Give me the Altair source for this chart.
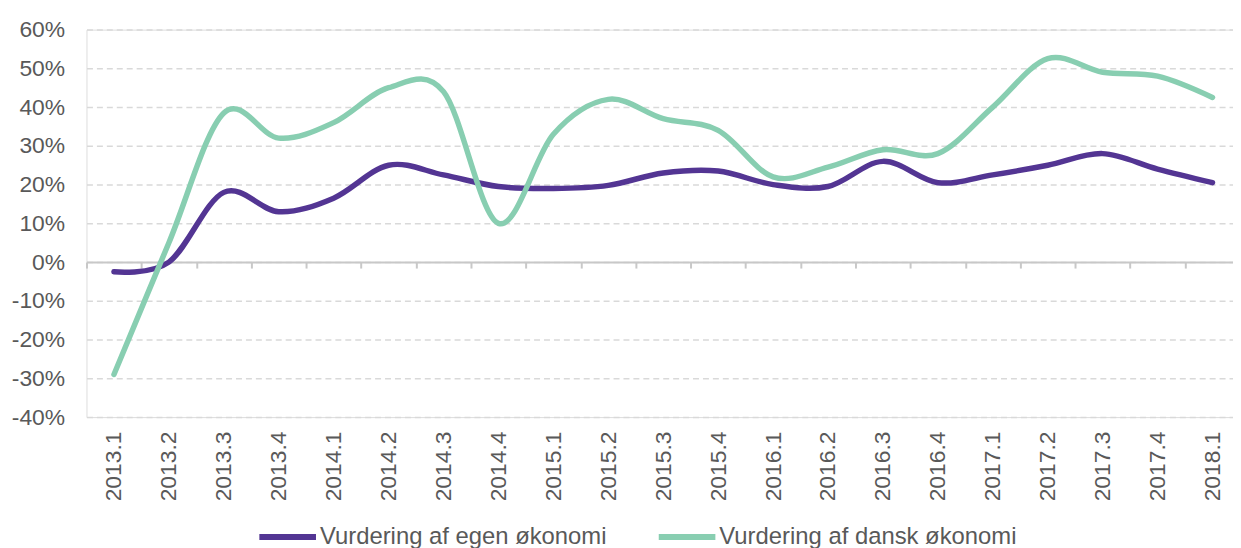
import altair as alt
import pandas as pd

quarters = ["2013.1", "2013.2", "2013.3", "2013.4", "2014.1", "2014.2", "2014.3",
            "2014.4", "2015.1", "2015.2", "2015.3", "2015.4", "2016.1", "2016.2",
            "2016.3", "2016.4", "2017.1", "2017.2", "2017.3", "2017.4", "2018.1"]

egen = [-2.5, 0.0, 18.0, 13.0, 16.5, 25.0, 22.5, 19.5, 19.0, 19.8, 23.0, 23.5,
        20.0, 19.5, 26.0, 20.5, 22.5, 25.0, 28.0, 24.0, 20.5]

dansk = [-29.0, 5.0, 38.5, 32.0, 36.0, 45.0, 44.0, 10.0, 33.0, 42.0, 37.0, 34.0,
         22.0, 24.5, 29.0, 28.0, 40.0, 52.5, 49.0, 48.0, 42.5]

series_names = ["Vurdering af egen økonomi", "Vurdering af dansk økonomi"]
series_colors = ["#533593", "#88CEB1"]
y_ticks = [-40, -30, -20, -10, 0, 10, 20, 30, 40, 50, 60]

rows = []
for name, vals in zip(series_names, [egen, dansk]):
    for q, v in zip(quarters, vals):
        rows.append({"kvartal": q, "værdi": v, "serie": name})
df = pd.DataFrame(rows)

FONT = "Liberation Sans"
TXT = "#595959"

x_enc = alt.X(
    "kvartal:N",
    sort=quarters,
    title=None,
    scale=alt.Scale(type="band", paddingInner=0, paddingOuter=0, range=[0, 1161]),
    axis=alt.Axis(
        orient="bottom",
        offset=-156,
        tickBand="extent",
        labelAngle=-90,
        labelAlign="right",
        labelBaseline="middle",
        labelPadding=164,
        labelFontSize=23,
        labelColor=TXT,
        labelFont=FONT,
        domainColor="#C8C8C8",
        domainWidth=2,
        tickColor="#C8C8C8",
        tickWidth=2,
        tickSize=6,
        grid=False,
        labelOverlap=False,
    ),
)

y_enc = alt.Y(
    "værdi:Q",
    title=None,
    scale=alt.Scale(domain=[-40, 60], nice=False, zero=False),
    axis=alt.Axis(
        values=y_ticks,
        labelExpr="datum.value + '%'",
        labelFontSize=23,
        labelColor=TXT,
        labelFont=FONT,
        labelPadding=22,
        domain=False,
        ticks=False,
        grid=True,
        gridColor="#D9D9D9",
        gridDash=[6, 4],
        gridWidth=1.5,
    ),
)

color_enc = alt.Color(
    "serie:N",
    title=None,
    scale=alt.Scale(domain=series_names, range=series_colors),
    legend=alt.Legend(
        orient="none",
        legendX=171,
        legendY=479,
        direction="horizontal",
        symbolType="stroke",
        symbolSize=3249,
        symbolStrokeWidth=6,
        labelFontSize=24,
        labelColor=TXT,
        labelFont=FONT,
        labelOffset=1,
        columnPadding=40,
        padding=0,
        labelLimit=400,
    ),
)

base = alt.Chart(df).mark_line(
    interpolate="cardinal", tension=0, strokeWidth=5.5, strokeCap="round", strokeJoin="round"
).encode(x=x_enc, y=y_enc, color=color_enc)

layer1 = base.transform_filter(alt.datum.serie == series_names[0])
layer2 = base.transform_filter(alt.datum.serie == series_names[1])

chart = alt.layer(layer1, layer2).properties(
    width=1154,
    height=390,
    autosize=alt.AutoSizeParams(type="none"),
    padding={"left": 79, "top": 20, "right": 0, "bottom": 130},
).configure_view(stroke=None).configure(background="white")

chart.save("out.html", embed_options={"renderer": "svg", "actions": False})
